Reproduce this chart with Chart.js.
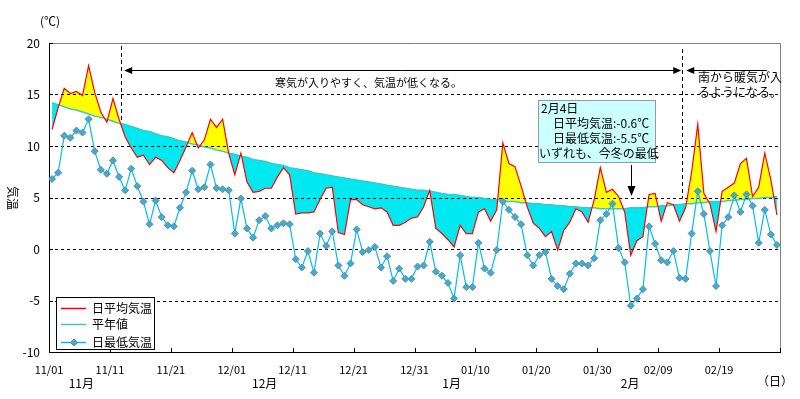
<!DOCTYPE html>
<html>
<head>
<meta charset="utf-8">
<script src="https://cdn.jsdelivr.net/npm/chart.js@4.4.1/dist/chart.umd.min.js"></script>
<style>
body { margin: 0; background: #fff; }
canvas { display: block; }
</style>
</head>
<body>
<canvas id="chart" width="800" height="399"></canvas>
<script>
// tick labels every 10 days, starting 11/01
const tickLabels = ['11/01', '11/11', '11/21', '12/01', '12/11', '12/21', '12/31', '01/10', '01/20', '01/30', '02/09', '02/19'];
const monthLabels = ['11月', '12月', '1月', '2月'];

// daily values 11/01 .. 02/28
const meanTemp = [
    11.6, 13.7, 15.6, 15.1, 15.3, 14.9, 17.8, 15.2, 13.3, 12.3,
    14.6, 12.6, 10.9, 9.8, 8.9, 9.1, 8.2, 8.9, 8.6, 7.9,
    7.4, 8.6, 9.9, 11.3, 9.8, 10.6, 12.6, 11.8, 12.6, 9.3,
    7.2, 9.3, 6.5, 5.5, 5.6, 5.9, 5.9, 7.0, 7.9, 7.2,
    3.4, 3.5, 3.5, 3.6, 4.8, 5.9, 6.0, 1.6, 1.4, 4.8,
    4.8, 4.3, 4.1, 3.9, 4.0, 3.6, 2.3, 2.3, 2.6, 3.0,
    3.1, 4.1, 5.7, 2.0, 1.5, 0.9, 0.2, 2.3, 1.5, 1.5,
    3.6, 3.9, 2.7, 3.8, 10.3, 8.3, 8.0, 6.1, 4.1, 2.5,
    2.0, 1.2, 1.7, -0.1, 1.8, 2.6, 3.9, 3.6, 2.6, 4.8,
    7.9, 5.5, 5.8, 5.1, 3.6, -0.6, 0.8, 1.2, 5.3, 5.4,
    2.7, 4.5, 4.3, 2.7, 4.0, 7.5, 12.1, 5.4, 4.4, 1.7,
    5.6, 6.0, 6.4, 8.3, 8.8, 5.1, 6.0, 9.3, 6.7, 3.3
];
const normalTemp = [
    14.2, 14.0, 13.8, 13.6, 13.5, 13.3, 13.1, 12.9, 12.8, 12.6,
    12.4, 12.2, 12.1, 11.9, 11.7, 11.5, 11.4, 11.2, 11.0, 10.9,
    10.7, 10.5, 10.4, 10.2, 10.1, 9.9, 9.8, 9.6, 9.5, 9.3,
    9.2, 9.0, 8.9, 8.7, 8.6, 8.5, 8.3, 8.2, 8.1, 7.9,
    7.8, 7.7, 7.6, 7.4, 7.3, 7.2, 7.1, 7.0, 6.9, 6.8,
    6.7, 6.6, 6.5, 6.4, 6.3, 6.2, 6.1, 6.0, 5.9, 5.8,
    5.7, 5.7, 5.6, 5.5, 5.4, 5.3, 5.3, 5.2, 5.1, 5.0,
    5.0, 4.9, 4.8, 4.8, 4.7, 4.6, 4.6, 4.5, 4.5, 4.4,
    4.4, 4.3, 4.3, 4.2, 4.2, 4.1, 4.1, 4.0, 4.0, 4.0,
    3.9, 3.9, 3.9, 3.9, 3.9, 4.0, 4.0, 4.0, 4.1, 4.1,
    4.2, 4.2, 4.3, 4.3, 4.4, 4.4, 4.5, 4.5, 4.6, 4.6,
    4.6, 4.7, 4.7, 4.8, 4.8, 4.9, 4.9, 5.0, 5.0, 5.1
];
const minTemp = [
    6.8, 7.4, 11.0, 10.8, 11.5, 11.3, 12.6, 9.5, 7.7, 7.3,
    8.6, 7.0, 5.7, 7.8, 6.1, 4.6, 2.4, 4.7, 3.1, 2.3,
    2.2, 4.0, 5.5, 7.6, 5.8, 6.0, 8.2, 5.9, 5.8, 5.7,
    1.5, 4.9, 2.0, 1.1, 2.8, 3.2, 2.0, 2.3, 2.5, 2.4,
    -1.0, -1.8, -0.2, -2.3, 1.5, 0.3, 1.7, -1.6, -2.6, -1.4,
    1.9, -0.3, -0.1, 0.2, -1.8, -0.7, -3.1, -1.9, -2.9, -2.9,
    -1.7, -1.6, 0.7, -2.2, -2.6, -3.3, -4.8, -0.6, -3.7, -3.7,
    0.6, -1.9, -2.3, -0.1, 4.6, 3.8, 3.1, 2.4, -0.6, -1.6,
    -0.6, -0.3, -2.9, -3.6, -3.9, -2.4, -1.4, -1.4, -1.6, -0.9,
    2.8, 3.4, 4.4, 0.1, -1.3, -5.5, -4.8, -3.9, 2.2, 0.5,
    -1.1, -1.3, -0.2, -2.8, -2.9, 1.5, 5.6, 3.4, -0.2, -3.6,
    2.3, 3.1, 5.2, 3.6, 5.3, 4.2, 0.6, 3.8, 1.4, 0.4
];

const FONT = "'Noto Sans CJK JP', 'Noto Sans', sans-serif";
const RED = '#ff0000';
const TEAL = '#3cc8c8';
const BLUE = '#00bef0';
const DIAMOND = '#2ab4e4';

Chart.defaults.font.family = FONT;
Chart.defaults.font.size = 12;
Chart.defaults.color = '#000';

function toPoints(arr) {
    return arr.map((v, i) => ({ x: i + 0.5, y: v }));
}

function arrowHead(ctx, x, y, dir) {
    // dir: 'left', 'right', 'down'
    ctx.beginPath();
    if (dir === 'left') {
        ctx.moveTo(x, y); ctx.lineTo(x + 8, y - 3.5); ctx.lineTo(x + 8, y + 3.5);
    } else if (dir === 'right') {
        ctx.moveTo(x, y); ctx.lineTo(x - 8, y - 3.5); ctx.lineTo(x - 8, y + 3.5);
    } else {
        ctx.moveTo(x, y); ctx.lineTo(x - 4, y - 10); ctx.lineTo(x + 4, y - 10);
    }
    ctx.closePath();
    ctx.fill();
}

function diamond(ctx, x, y, r) {
    ctx.beginPath();
    ctx.moveTo(x, y - r); ctx.lineTo(x + r, y); ctx.lineTo(x, y + r); ctx.lineTo(x - r, y);
    ctx.closePath();
    ctx.fillStyle = DIAMOND;
    ctx.fill();
    ctx.strokeStyle = '#808080';
    ctx.lineWidth = 1;
    ctx.stroke();
}

const decorations = {
    id: 'decorations',
    beforeDatasetsDraw(chart) {
        const { ctx, chartArea: a, scales: { y } } = chart;
        ctx.save();
        ctx.strokeStyle = '#000';
        ctx.lineWidth = 1;
        ctx.setLineDash([3, 3]);
        y.ticks.forEach(t => {
            if (t.value <= y.min || t.value >= y.max) return;
            const py = Math.round(y.getPixelForValue(t.value)) + 0.5;
            ctx.beginPath();
            ctx.moveTo(a.left, py);
            ctx.lineTo(a.right, py);
            ctx.stroke();
        });
        ctx.restore();
    },
    afterDraw(chart) {
        const { ctx, chartArea: a, scales: { x, y } } = chart;
        ctx.save();

        // top / right frame
        ctx.strokeStyle = '#808080';
        ctx.lineWidth = 1;
        ctx.beginPath();
        ctx.moveTo(a.left, a.top + 0.5);
        ctx.lineTo(a.right + 0.5, a.top + 0.5);
        ctx.lineTo(a.right + 0.5, a.bottom);
        ctx.stroke();

        // inner tick marks
        ctx.strokeStyle = '#000';
        ctx.beginPath();
        x.ticks.forEach(t => {
            const px = Math.round(x.getPixelForValue(t.value)) + 0.5;
            ctx.moveTo(px, a.bottom);
            ctx.lineTo(px, a.bottom - 4);
        });
        y.ticks.forEach(t => {
            const py = Math.round(y.getPixelForValue(t.value)) + 0.5;
            ctx.moveTo(a.left, py);
            ctx.lineTo(a.left + 4, py);
        });
        ctx.stroke();

        ctx.fillStyle = '#000';
        ctx.textBaseline = 'middle';
        ctx.font = '12px ' + FONT;

        // month labels
        ctx.textAlign = 'center';
        const monthPos = [5.3, 35.4, 66.1, 95.4];
        monthLabels.forEach((m, i) => {
            ctx.fillText(m, x.getPixelForValue(monthPos[i]), 383);
        });
        ctx.fillText('（日）', 775, 381);
        ctx.fillText('(℃)', 50, 21);

        // y axis title
        ctx.save();
        ctx.translate(13, 198);
        ctx.rotate(Math.PI / 2);
        ctx.fillText('気温', 0, 0);
        ctx.restore();

        // period separators
        const xa = x.getPixelForValue(11.85);
        const xb = x.getPixelForValue(103.95);
        ctx.setLineDash([4, 3]);
        ctx.beginPath();
        ctx.moveTo(Math.round(xa) + 0.5, a.top + 3);
        ctx.lineTo(Math.round(xa) + 0.5, y.getPixelForValue(12.5));
        ctx.moveTo(Math.round(xb) + 0.5, a.top + 6);
        ctx.lineTo(Math.round(xb) + 0.5, y.getPixelForValue(4.9));
        ctx.stroke();
        ctx.setLineDash([]);

        // arrows
        const ay = Math.round(y.getPixelForValue(17.4)) + 0.5;
        ctx.beginPath();
        ctx.moveTo(xa + 4, ay); ctx.lineTo(xb - 4, ay);
        ctx.moveTo(xb + 6, ay); ctx.lineTo(767, ay);
        ctx.stroke();
        arrowHead(ctx, xa + 3, ay, 'left');
        arrowHead(ctx, xb - 1, ay, 'right');
        arrowHead(ctx, xb + 4, ay, 'left');

        ctx.textAlign = 'left';
        ctx.font = '11px ' + FONT;
        ctx.fillText('寒気が入りやすく、気温が低くなる。', 275, 83);
        ctx.font = '12px ' + FONT;
        ctx.fillText('南から暖気が入', 698, 77);
        ctx.fillText('るようになる。', 698, 92);

        // note box for 2/4
        ctx.fillStyle = '#ccffff';
        ctx.fillRect(538, 100, 117, 62);
        ctx.strokeStyle = '#999';
        ctx.strokeRect(538.5, 100.5, 117, 62);
        ctx.fillStyle = '#000';
        ctx.fillText('2月4日', 541, 108);
        ctx.fillText('　日平均気温:-0.6℃', 541, 123);
        ctx.fillText('　日最低気温:-5.5℃', 541, 138);
        ctx.fillText('いずれも、今冬の最低', 539, 153);
        const nx = Math.round(x.getPixelForValue(95.5)) + 0.5;
        ctx.strokeStyle = '#000';
        ctx.beginPath();
        ctx.moveTo(nx, 165);
        ctx.lineTo(nx, 190);
        ctx.stroke();
        arrowHead(ctx, nx, 196, 'down');

        // legend
        const lx = 56, ly = 297;
        ctx.fillStyle = '#fff';
        ctx.fillRect(lx, ly, 98, 52);
        ctx.strokeStyle = '#000';
        ctx.strokeRect(lx + 0.5, ly + 0.5, 98, 52);
        const rows = [
            { label: '日平均気温', color: RED, y: 308 },
            { label: '平年値', color: TEAL, y: 324 },
            { label: '日最低気温', color: BLUE, y: 342, marker: true }
        ];
        rows.forEach(r => {
            ctx.strokeStyle = r.color;
            ctx.lineWidth = 1.5;
            ctx.beginPath();
            ctx.moveTo(61, r.y + 0.5);
            ctx.lineTo(86, r.y + 0.5);
            ctx.stroke();
            if (r.marker) diamond(ctx, 74, r.y + 0.5, 3.5);
            ctx.fillStyle = '#000';
            ctx.fillText(r.label, 92, r.y);
        });

        ctx.restore();
    }
};

new Chart(document.getElementById('chart'), {
    type: 'line',
    data: {
        datasets: [{
            label: '日平均気温',
            data: toPoints(meanTemp),
            borderColor: RED,
            borderWidth: 1.2,
            pointRadius: 0,
            tension: 0,
            fill: { target: 1, above: '#ffff00', below: '#00e8f0' },
            order: 1
        }, {
            label: '平年値',
            data: toPoints(normalTemp),
            borderColor: TEAL,
            borderWidth: 1.5,
            pointRadius: 0,
            tension: 0,
            fill: false,
            order: 2
        }, {
            label: '日最低気温',
            data: toPoints(minTemp),
            borderColor: BLUE,
            borderWidth: 1.2,
            pointStyle: 'rectRot',
            pointRadius: 3.5,
            pointBackgroundColor: DIAMOND,
            pointBorderColor: '#808080',
            pointBorderWidth: 1,
            tension: 0,
            fill: false,
            order: 0
        }]
    },
    options: {
        responsive: false,
        animation: false,
        devicePixelRatio: 1,
        layout: { padding: { top: 43, right: 20, left: 0, bottom: 0 } },
        plugins: {
            legend: { display: false },
            tooltip: { enabled: false },
            filler: { drawTime: 'beforeDatasetsDraw' }
        },
        scales: {
            x: {
                type: 'linear',
                min: 0,
                max: 120,
                grid: { display: false, drawTicks: false },
                border: { display: true, color: '#000', width: 1 },
                ticks: {
                    stepSize: 10,
                    padding: 11,
                    maxRotation: 0,
                    font: { size: 11 },
                    callback: v => tickLabels[v / 10] || ''
                },
                afterFit: s => { s.height = 47; }
            },
            y: {
                min: -10,
                max: 20,
                grid: { display: false, drawTicks: false },
                border: { display: true, color: '#000', width: 1 },
                ticks: { stepSize: 5, padding: 9, font: { size: 12 } },
                afterFit: s => { s.width = 49; }
            }
        }
    },
    plugins: [decorations]
});
</script>
</body>
</html>
